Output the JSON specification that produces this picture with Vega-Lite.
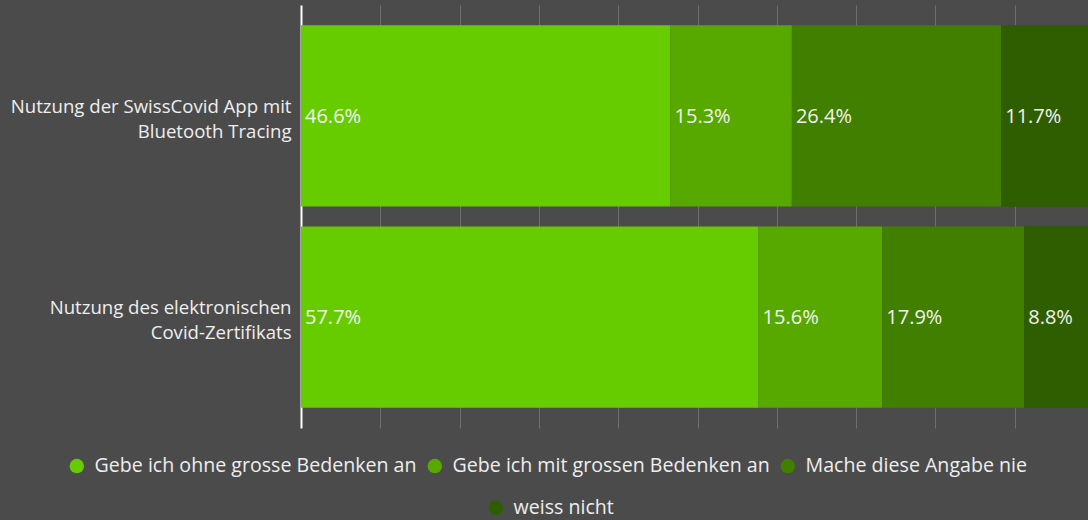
{
  "$schema": "https://vega.github.io/schema/vega-lite/v6.json",
  "autosize": "none",
  "width": 787,
  "height": 423,
  "padding": {"left": 301, "top": 5, "right": 0, "bottom": 92},
  "background": "#4b4b4b",
  "config": {
    "view": {"stroke": null},
    "font": "Open Sans",
    "legend": {
      "labelColor": "#eeeeee",
      "labelFontSize": 19.6,
      "labelFont": "Open Sans",
      "labelLimit": 400,
      "symbolType": "circle",
      "symbolSize": 210,
      "symbolStrokeWidth": 0,
      "columnPadding": 8,
      "labelOffset": 8,
      "title": null
    }
  },
  "data": {
    "values": [
      {"item": "Nutzung der SwissCovid App mit Bluetooth Tracing", "category": "Gebe ich ohne grosse Bedenken an", "order": 1, "value": 0.466},
      {"item": "Nutzung der SwissCovid App mit Bluetooth Tracing", "category": "Gebe ich mit grossen Bedenken an", "order": 2, "value": 0.153},
      {"item": "Nutzung der SwissCovid App mit Bluetooth Tracing", "category": "Mache diese Angabe nie", "order": 3, "value": 0.264},
      {"item": "Nutzung der SwissCovid App mit Bluetooth Tracing", "category": "weiss nicht", "order": 4, "value": 0.117},
      {"item": "Nutzung des elektronischen Covid-Zertifikats", "category": "Gebe ich ohne grosse Bedenken an", "order": 1, "value": 0.577},
      {"item": "Nutzung des elektronischen Covid-Zertifikats", "category": "Gebe ich mit grossen Bedenken an", "order": 2, "value": 0.156},
      {"item": "Nutzung des elektronischen Covid-Zertifikats", "category": "Mache diese Angabe nie", "order": 3, "value": 0.179},
      {"item": "Nutzung des elektronischen Covid-Zertifikats", "category": "weiss nicht", "order": 4, "value": 0.088}
    ]
  },
  "transform": [
    {"stack": "value", "groupby": ["item"], "sort": [{"field": "order", "order": "ascending"}], "as": ["x0", "x1"]}
  ],
  "encoding": {
    "y": {
      "field": "item",
      "type": "nominal",
      "sort": ["Nutzung der SwissCovid App mit Bluetooth Tracing", "Nutzung des elektronischen Covid-Zertifikats"],
      "scale": {"paddingInner": 0.1, "paddingOuter": 0.1},
      "axis": {
        "title": null,
        "ticks": false,
        "domainColor": "#ffffff",
        "domainWidth": 2,
        "labelColor": "#eeeeee",
        "labelFontSize": 18.6,
        "labelFont": "Open Sans",
        "labelPadding": 10,
        "labelLimit": 300,
        "labelLineHeight": 25,
        "labelOffset": -9,
        "labelExpr": "datum.value == 'Nutzung der SwissCovid App mit Bluetooth Tracing' ? ['Nutzung der SwissCovid App mit', 'Bluetooth Tracing'] : ['Nutzung des elektronischen', 'Covid-Zertifikats']"
      }
    }
  },
  "layer": [
    {
      "mark": {"type": "bar", "clip": true},
      "encoding": {
        "x": {
          "field": "x0",
          "type": "quantitative",
          "scale": {"domain": [0, 0.9924], "nice": false},
          "axis": {
            "title": null,
            "labels": false,
            "ticks": false,
            "domain": false,
            "grid": true,
            "gridColor": "#6e6e6e",
            "gridWidth": 1,
            "values": [0.1, 0.2, 0.3, 0.4, 0.5, 0.6, 0.7, 0.8, 0.9]
          }
        },
        "x2": {"field": "x1"},
        "color": {
          "field": "category",
          "type": "nominal",
          "scale": {
            "domain": ["Gebe ich ohne grosse Bedenken an", "Gebe ich mit grossen Bedenken an", "Mache diese Angabe nie", "weiss nicht"],
            "range": ["#66cc00", "#57a900", "#407f00", "#2f5e00"]
          },
          "legend": {
            "values": ["Gebe ich ohne grosse Bedenken an", "Gebe ich mit grossen Bedenken an", "Mache diese Angabe nie"],
            "orient": "none",
            "direction": "horizontal",
            "legendX": -234,
            "legendY": 451
          }
        }
      }
    },
    {
      "transform": [{"filter": "datum.category == 'weiss nicht'"}],
      "mark": {"type": "bar", "clip": true},
      "encoding": {
        "x": {"field": "x0", "type": "quantitative"},
        "x2": {"field": "x1"},
        "color": {
          "field": "category",
          "type": "nominal",
          "scale": {"domain": ["weiss nicht"], "range": ["#2f5e00"]},
          "legend": {
            "orient": "none",
            "direction": "horizontal",
            "legendX": 185,
            "legendY": 493
          }
        }
      }
    },
    {
      "mark": {"type": "text", "align": "left", "baseline": "middle", "dx": 4, "dy": 1, "color": "#f2f2f2", "fontSize": 20, "font": "Open Sans"},
      "encoding": {
        "x": {"field": "x0", "type": "quantitative"},
        "text": {"field": "value", "type": "quantitative", "format": ".1%"}
      }
    }
  ],
  "resolve": {"scale": {"color": "independent"}}
}
